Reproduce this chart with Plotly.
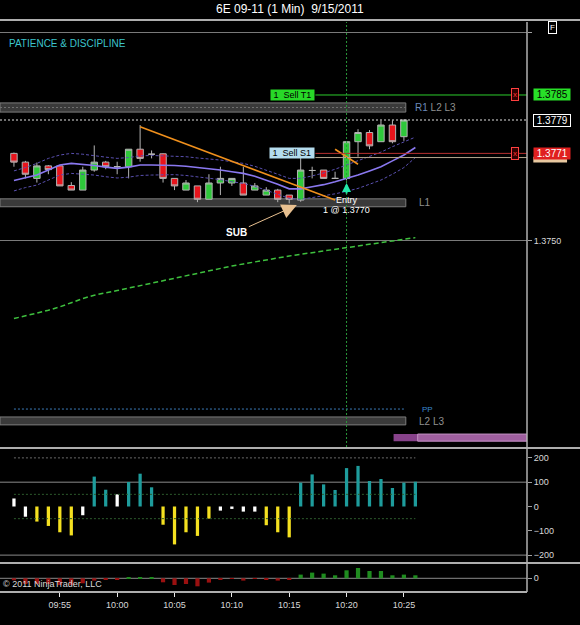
import plotly.graph_objects as go

DAY = "2011-09-15 "
times = ["09:51", "09:52", "09:53", "09:54", "09:55", "09:56", "09:57", "09:58", "09:59",
         "10:00", "10:01", "10:02", "10:03", "10:04", "10:05", "10:06", "10:07", "10:08",
         "10:09", "10:10", "10:11", "10:12", "10:13", "10:14", "10:15", "10:16", "10:17",
         "10:18", "10:19", "10:20", "10:21", "10:22", "10:23", "10:24", "10:25", "10:26"]

# candles (the 10:26 bar has just opened and is hidden under the last-price line)
opens = [1.37710, 1.37689, 1.37650, 1.37680, 1.37680, 1.37633, 1.37622, 1.37670, 1.37689,
         1.37678, 1.37678, 1.37720, 1.37708, 1.37709, 1.37650, 1.37622, 1.37632, 1.37600,
         1.37639, 1.37639, 1.37639, 1.37622, 1.37610, 1.37622, 1.37610, 1.37598, 1.37669,
         1.37670, 1.37650, 1.37650, 1.37738, 1.37760, 1.37738, 1.37778, 1.37750]
highs = [1.37712, 1.37692, 1.37688, 1.37682, 1.37680, 1.37641, 1.37678, 1.37729, 1.37692,
         1.37690, 1.37720, 1.37778, 1.37717, 1.37710, 1.37650, 1.37646, 1.37632, 1.37660,
         1.37678, 1.37650, 1.37678, 1.37639, 1.37629, 1.37625, 1.37610, 1.37702, 1.37678,
         1.37670, 1.37666, 1.37738, 1.37768, 1.37766, 1.37788, 1.37789, 1.37790]
lows = [1.37678, 1.37650, 1.37640, 1.37660, 1.37632, 1.37622, 1.37622, 1.37666, 1.37672,
        1.37660, 1.37650, 1.37690, 1.37698, 1.37640, 1.37622, 1.37622, 1.37593, 1.37600,
        1.37610, 1.37632, 1.37610, 1.37622, 1.37610, 1.37593, 1.37590, 1.37594, 1.37650,
        1.37650, 1.37650, 1.37645, 1.37702, 1.37720, 1.37738, 1.37734, 1.37740]
closes = [1.37689, 1.37660, 1.37680, 1.37671, 1.37632, 1.37622, 1.37670, 1.37689, 1.37678,
          1.37678, 1.37720, 1.37698, 1.37708, 1.37650, 1.37632, 1.37639, 1.37600, 1.37639,
          1.37650, 1.37650, 1.37610, 1.37632, 1.37622, 1.37600, 1.37600, 1.37670, 1.37669,
          1.37650, 1.37650, 1.37738, 1.37760, 1.37728, 1.37778, 1.37738, 1.37790]

ma_mid = [1.37645, 1.37652, 1.37658, 1.37670, 1.37682, 1.37686, 1.37684, 1.37681, 1.37677,
          1.37674, 1.37677, 1.37682, 1.37682, 1.37682, 1.37681, 1.37679, 1.37676, 1.37674,
          1.37670, 1.37666, 1.37662, 1.37655, 1.37646, 1.37636, 1.37625, 1.37625, 1.37630,
          1.37635, 1.37642, 1.37650, 1.37658, 1.37668, 1.37678, 1.37692, 1.37706, 1.37724]
ma_up = [1.37668, 1.37676, 1.37686, 1.37698, 1.37706, 1.37710, 1.37708, 1.37704, 1.37701,
         1.37698, 1.37700, 1.37704, 1.37705, 1.37704, 1.37703, 1.37702, 1.37699, 1.37697,
         1.37694, 1.37690, 1.37686, 1.37679, 1.37670, 1.37660, 1.37650, 1.37650, 1.37656,
         1.37663, 1.37672, 1.37682, 1.37692, 1.37702, 1.37713, 1.37726, 1.37738, 1.37749]
ma_low = [1.37620, 1.37628, 1.37634, 1.37646, 1.37658, 1.37662, 1.37660, 1.37658, 1.37654,
          1.37651, 1.37653, 1.37657, 1.37658, 1.37659, 1.37659, 1.37657, 1.37654, 1.37651,
          1.37647, 1.37642, 1.37638, 1.37631, 1.37622, 1.37612, 1.37602, 1.37600, 1.37604,
          1.37608, 1.37613, 1.37619, 1.37626, 1.37636, 1.37646, 1.37660, 1.37676, 1.37700]
ma_long = [1.37314, 1.37320, 1.37327, 1.37334, 1.37342, 1.37352, 1.37362, 1.37370, 1.37375,
           1.37381, 1.37387, 1.37393, 1.37399, 1.37404, 1.37410, 1.37416, 1.37422, 1.37429,
           1.37435, 1.37440, 1.37445, 1.37450, 1.37455, 1.37460, 1.37464, 1.37468, 1.37472,
           1.37476, 1.37480, 1.37484, 1.37488, 1.37492, 1.37495, 1.37499, 1.37503, 1.37508]

osc = [33, -42, -62, -80, -106, -119, -36, 123, 69, 50, 101, 135, 79, -75, -156, -106, -121,
       -50, -17, -10, -21, -21, -77, -106, -127, 98, 132, 91, 68, 158, 167, 105, 113, 76, 98, 102]
osc_state = ["n", "n", "s", "s", "s", "s", "n", "b", "b", "n", "b", "b", "b", "s", "s", "s", "s",
             "s", "n", "n", "n", "n", "s", "s", "s", "b", "b", "b", "b", "b", "b", "b", "b", "b", "b", "b"]
delta = [-2, -5.7, -5.7, -5.7, -6.7, -6.7, -5, -2.3, -1, -1, 1, 0.7, 0.5, -4, -6.7, -5.7, -8,
         -4.3, -1, -0.5, -2.3, -0.5, -1, -2.3, -1.5, 3.7, 5.7, 4.7, 3, 8, 10.3, 7.3, 7.3, 3, 3.7, 3]

time_ticks = ["09:55", "10:00", "10:05", "10:10", "10:15", "10:20", "10:25"]
price_ticks = [1.3750, 1.3800]
price_ticktext = ["1.3750", ""]
osc_ticks = [200, 100, 0, -100, -200]

zone_low = [1.37809, 1.37582, 1.37059]
zone_high = [1.37831, 1.37601, 1.37078]
pp_level = 1.37097
target_price = 1.3785
stop_price = 1.3771
entry_price = 1.3770
last_price = 1.3779
trend1_x = ["10:02:00", "10:19:00"]
trend1_y = [1.37774, 1.37598]
trend2_x = ["10:19:00", "10:21:00"]
trend2_y = [1.37720, 1.37684]
osc_levels_dotted = [200, 50, -50]
osc_levels_solid = [100, -200]

FONT = "Liberation Sans, Arial, sans-serif"
X = [DAY + t + ":00" for t in times]
T = lambda s: DAY + s
XL, XR = T("09:49:47"), T("10:35:44")

fig = go.Figure()

shapes = []
for lo, hi in zip(zone_low, zone_high):
    shapes.append(dict(type="rect", xref="x", yref="y", x0=XL, x1=T("10:25:10"), y0=lo, y1=hi,
                       fillcolor="#3a3a3a", line=dict(color="#7c7c7c", width=1), layer="below"))
shapes.append(dict(type="line", xref="x", yref="y", x0=XL, x1=T("10:25:10"),
                   y0=(zone_low[0] + zone_high[0]) / 2, y1=(zone_low[0] + zone_high[0]) / 2,
                   line=dict(color="#707070", width=1, dash="2px,2px"), layer="below"))
shapes.append(dict(type="rect", xref="x", yref="y", x0=T("10:24:06"), x1=XR, y0=1.37020, y1=1.37037,
                   fillcolor="#87428a", line=dict(width=0), layer="below"))
shapes.append(dict(type="rect", xref="x", yref="y", x0=T("10:26:12"), x1=XR, y0=1.37020, y1=1.37037,
                   fillcolor="#a060a0", line=dict(color="#c090c0", width=1), layer="below"))

fig.add_trace(go.Scatter(x=[X[0], X[-2]], y=[pp_level, pp_level], mode="lines",
                         line=dict(color="#3a7ab8", width=1, dash="2px,2px"), hoverinfo="skip"))

fig.add_trace(go.Scatter(x=X, y=ma_long, mode="lines", line=dict(color="#3ec03e", width=1.5, dash="5px,3px"),
                         hoverinfo="skip"))
fig.add_trace(go.Scatter(x=X, y=ma_up, mode="lines", line=dict(color="#5a50b0", width=1, dash="3px,2px"), hoverinfo="skip"))
fig.add_trace(go.Scatter(x=X, y=ma_low, mode="lines", line=dict(color="#5a50b0", width=1, dash="3px,2px"), hoverinfo="skip"))
fig.add_trace(go.Scatter(x=X, y=ma_mid, mode="lines", line=dict(color="#8a78f0", width=1.6), hoverinfo="skip"))

fig.add_trace(go.Candlestick(x=X[:len(opens)], open=opens, high=highs, low=lows, close=closes,
                             increasing=dict(line=dict(color="#b4b4b4", width=1), fillcolor="#2ec83a"),
                             decreasing=dict(line=dict(color="#b4b4b4", width=1), fillcolor="#e8141c"),
                             whiskerwidth=0, hoverinfo="skip"))

fig.add_trace(go.Scatter(x=[T(v) for v in trend1_x], y=trend1_y, mode="lines",
                         line=dict(color="#f0901c", width=1.6), hoverinfo="skip"))
fig.add_trace(go.Scatter(x=[T(v) for v in trend2_x], y=trend2_y, mode="lines",
                         line=dict(color="#f0901c", width=1.6), hoverinfo="skip"))

fig.add_trace(go.Scatter(x=[T("10:17:17"), XR], y=[target_price] * 2, mode="lines",
                         line=dict(color="#2ccc2c", width=1), hoverinfo="skip"))
fig.add_trace(go.Scatter(x=[T("10:17:17"), XR], y=[entry_price] * 2, mode="lines",
                         line=dict(color="#b8a890", width=1), hoverinfo="skip"))
fig.add_trace(go.Scatter(x=[T("10:17:17"), XR], y=[stop_price] * 2, mode="lines",
                         line=dict(color="#b83030", width=1), hoverinfo="skip"))

ccol = {"n": "#ffffff", "s": "#f4e020", "b": "#1e9c9c"}
for lv in osc_levels_dotted:
    fig.add_trace(go.Scatter(x=[X[0], X[-1]], y=[lv, lv], yaxis="y2", mode="lines",
                             line=dict(color="#6a6a6a" if lv == 200 else "#2c5a2c", width=1, dash="2px,2px"),
                             hoverinfo="skip"))
fig.add_trace(go.Bar(x=X, y=osc, yaxis="y2", width=17000, marker=dict(color=[ccol[s] for s in osc_state], line=dict(width=0)),
                     hoverinfo="skip"))
fig.add_trace(go.Bar(x=X, y=delta, yaxis="y3", width=22000,
                     marker=dict(color=["#1f8c1f" if v > 0 else "#9a1010" for v in delta], line=dict(width=0)),
                     hoverinfo="skip"))

R = 580 / 527
for py in [1.0035, 0.2526, 0.0509]:
    shapes.append(dict(type="line", xref="paper", yref="paper", x0=0, x1=R, y0=py, y1=py,
                       line=dict(color="#e8e8e8", width=1.5)))
shapes.append(dict(type="line", xref="paper", yref="paper", x0=0, x1=1, y0=0, y1=0,
                   line=dict(color="#e8e8e8", width=1.5)))
shapes.append(dict(type="line", xref="paper", yref="paper", x0=1, x1=1, y0=0, y1=1,
                   line=dict(color="#b0b0b0", width=1.5)))
for lv in osc_levels_solid:
    shapes.append(dict(type="line", xref="paper", yref="y2", x0=0, x1=1, y0=lv, y1=lv,
                       line=dict(color="#8a8a8a", width=1), layer="below"))
shapes.append(dict(type="line", xref="paper", yref="y3", x0=0, x1=1, y0=0, y1=0,
                   line=dict(color="#8a8a8a", width=1), layer="below"))
shapes.append(dict(type="line", xref="paper", yref="y", x0=0, x1=1, y0=last_price, y1=last_price,
                   line=dict(color="#e0e0e0", width=1, dash="2px,2px")))
shapes.append(dict(type="line", xref="x", yref="paper", x0=T("10:20:00"), x1=T("10:20:00"), y0=0.2544, y1=1,
                   line=dict(color="#2a9a3a", width=1, dash="2px,2px")))
shapes.append(dict(type="rect", xref="paper", yref="y", x0=1.012, x1=1.076, y0=1.37688, y1=1.37702,
                   fillcolor="#e8c8a0", line=dict(width=0)))

ann = []
def A(**k):
    base = dict(showarrow=False, yanchor="middle", font=dict(family=FONT, size=10, color="#a0a0a0"))
    if "font" in k:
        base["font"].update(k.pop("font"))
    base.update(k)
    ann.append(base)

A(text="6E 09-11 (1 Min)  9/15/2011", xref="paper", yref="paper", x=0.5 * R, y=1.0228,
  font=dict(size=12, color="#ffffff"))
A(text="PATIENCE & DISCIPLINE", xref="paper", yref="paper", x=0.014, y=0.963, xanchor="left",
  font=dict(size=10, color="#3cc4cc"))
A(text="F", xref="paper", yref="paper", x=1.057, y=0.991, font=dict(size=8, color="#ffffff"),
  bordercolor="#ffffff", borderwidth=1, borderpad=1)
A(text="\u00a9 2011 NinjaTrader, LLC", xref="paper", yref="paper", x=0.002, y=0.002, xanchor="left",
  yanchor="bottom", font=dict(size=9, color="#d8d8d8"))
A(text='<span style="color:#6a88b8">R1</span> L2 L3', xref="x", yref="y", x=T("10:25:47"), y=1.37820,
  xanchor="left", font=dict(color="#909090"))
A(text="L1", xref="x", yref="y", x=T("10:26:08"), y=1.37592, xanchor="left", font=dict(color="#909090"))
A(text="L2 L3", xref="x", yref="y", x=T("10:26:08"), y=1.37068, xanchor="left", font=dict(color="#909090"))
A(text="PP", xref="x", yref="y", x=T("10:26:24"), y=pp_level, xanchor="left", font=dict(size=8, color="#3a8ad0"))
A(text=" 1  Sell T1 ", xref="x", yref="y", x=T("10:17:17"), y=target_price, xanchor="right",
  bgcolor="#28d828", font=dict(size=9, color="#000000"), borderpad=0)
A(text=" 1  Sell S1 ", xref="x", yref="y", x=T("10:17:17"), y=stop_price, xanchor="right",
  bgcolor="#b4dcee", font=dict(size=9, color="#000000"), borderpad=0)
A(text="Entry", xref="x", yref="y", x=T("10:20:00"), y=1.37598, font=dict(size=9, color="#ffffff"))
A(text="1 @ 1.3770", xref="x", yref="y", x=T("10:20:00"), y=1.37574, font=dict(size=9, color="#ffffff"))
A(text="<b>SUB</b>", xref="x", yref="y", x=T("10:15:40"), y=1.37586, ax=-60, ay=27, showarrow=True,
  arrowhead=2, arrowsize=3, arrowwidth=1, arrowcolor="#e8c090", font=dict(size=10, color="#ffffff"))
A(text="", xref="x", yref="y", x=T("10:20:00"), y=1.37639, ax=0, ay=12, showarrow=True,
  arrowhead=2, arrowsize=0.9, arrowwidth=2, arrowcolor="#22e8a8")
A(text=" 1.3785 ", xref="paper", yref="y", x=1.012, y=target_price, xanchor="left", bgcolor="#28e028",
  font=dict(size=10, color="#000000"), borderpad=0)
A(text=" 1.3779 ", xref="paper", yref="y", x=1.012, y=last_price, xanchor="left", bgcolor="#000000",
  bordercolor="#ffffff", borderwidth=1, font=dict(size=10, color="#ffffff"), borderpad=0)
A(text=" 1.3771 ", xref="paper", yref="y", x=1.012, y=stop_price, xanchor="left", bgcolor="#e02020",
  font=dict(size=10, color="#ffffff"), borderpad=0)
for yv in [target_price, stop_price]:
    A(text="x", xref="paper", yref="y", x=0.984, y=yv, bgcolor="#300000", bordercolor="#ff4040",
      borderwidth=1, borderpad=1, font=dict(size=8, color="#ff3030"))

ax_common = dict(side="right", zeroline=False, ticks="outside", ticklen=4,
                 tickcolor="#a0a0a0", tickfont=dict(family=FONT, size=9, color="#d8d8d8"), anchor="x")

fig.update_layout(
    width=580, height=625, margin=dict(l=0, r=53, t=22, b=33),
    paper_bgcolor="#000000", plot_bgcolor="#000000", showlegend=False, hovermode=False,
    font=dict(family=FONT, color="#d8d8d8"), boxgap=0.2, boxgroupgap=0.3,
    xaxis=dict(type="date", range=[XL, XR], showgrid=False, zeroline=False, anchor="y3",
               tickvals=[T(t + ":00") for t in time_ticks], ticktext=time_ticks, ticks="outside", ticklen=4,
               tickcolor="#e8e8e8", tickfont=dict(family=FONT, size=9, color="#d8d8d8"),
               rangeslider=dict(visible=False), showline=False),
    yaxis=dict(domain=[0.2544, 1], range=[1.37006, 1.38025], tickvals=price_ticks, ticktext=price_ticktext,
               showgrid=True, gridcolor="#7a7a7a", gridwidth=1, **ax_common),
    yaxis2=dict(domain=[0.0526, 0.2509], range=[-228.4, 236.6], tickvals=osc_ticks, showgrid=False, **ax_common),
    yaxis3=dict(domain=[0, 0.0491], range=[-13.7, 14.3], tickvals=[0], showgrid=False, **ax_common),
    shapes=shapes, annotations=ann,
)

fig.write_html("out.html")
